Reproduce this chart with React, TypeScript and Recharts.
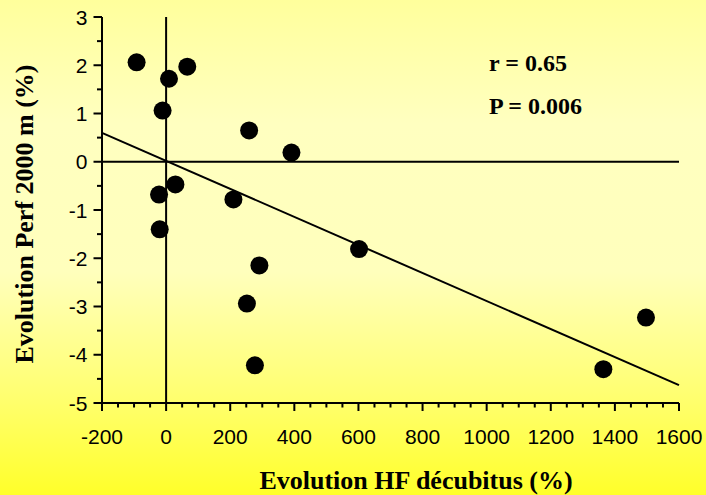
import { ReferenceLine, Scatter, ScatterChart, XAxis, YAxis } from 'recharts';

// Evolution HF décubitus (%) vs Evolution Perf 2000 m (%)
const hfChange = [-92, 9, 66, -11, 259, 391, -22, 29, -20, 210, 602, 291, 252, 277, 1364, 1497];
const perfChange = [2.06, 1.72, 1.97, 1.06, 0.65, 0.19, -0.68, -0.47, -1.4, -0.78, -1.81, -2.15, -2.94, -4.22, -4.3, -3.23];

// regression line end points
const fitX = [-200, 1600];
const fitY = [0.6, -4.63];

const xMajorTicks = [-200, 0, 200, 400, 600, 800, 1000, 1200, 1400, 1600];
const xMinorTicks = [
  -150, -100, -50, 50, 100, 150, 250, 300, 350, 450, 500, 550, 650, 700, 750, 850, 900, 950, 1050, 1100, 1150,
  1250, 1300, 1350, 1450, 1500, 1550,
];
const yMajorTicks = [-5, -4, -3, -2, -1, 0, 1, 2, 3];
const yMinorTicks = [-4.5, -3.5, -2.5, -1.5, -0.5, 0.5, 1.5, 2.5];

const points = hfChange.map((x, i) => ({ x, y: perfChange[i] }));
const fitLine = fitX.map((x, i) => ({ x, y: fitY[i] }));

const xTicks = [...xMajorTicks, ...xMinorTicks].sort((a, b) => a - b);
const yTicks = [...yMajorTicks, ...yMinorTicks].sort((a, b) => a - b);

const TICK_FONT = '"Liberation Sans", Arial, sans-serif';
const LABEL_FONT = '"Liberation Serif", "Times New Roman", serif';

function XTick(props: any) {
  const { x, y, payload } = props;
  const major = xMajorTicks.includes(payload.value);
  return (
    <g>
      <line x1={x} x2={x} y1={y} y2={y + (major ? 8 : 4.5)} stroke="#000" strokeWidth={2} />
      {major && (
        <text x={x} y={y + 40.5} textAnchor="middle" fontFamily={TICK_FONT} fontSize={21} fill="#000">
          {payload.value}
        </text>
      )}
    </g>
  );
}

function YTick(props: any) {
  const { x, y, payload } = props;
  const major = yMajorTicks.includes(payload.value);
  return (
    <g>
      <line x1={x} x2={x - (major ? 8.5 : 5)} y1={y} y2={y} stroke="#000" strokeWidth={2} />
      {major && (
        <text x={x - 14.5} y={y} dy="0.36em" textAnchor="end" fontFamily={TICK_FONT} fontSize={21} fill="#000">
          {payload.value}
        </text>
      )}
    </g>
  );
}

export default function App() {
  return (
    <div
      style={{
        position: 'absolute',
        left: 0,
        top: 0,
        width: 706,
        height: 495,
        background:
          'linear-gradient(to bottom, #ffff9c 0%, #ffffc0 25%, #ffffbc 55%, #ffff70 80%, #ffff2a 100%)',
      }}
    >
      <ScatterChart width={706} height={495} margin={{ top: 17, right: 27, left: 0, bottom: 0 }}>
        <XAxis
          type="number"
          dataKey="x"
          domain={[-200, 1600]}
          ticks={xTicks}
          interval={0}
          height={92}
          tickSize={0}
          tickMargin={0}
          tickLine={false}
          axisLine={{ stroke: '#000', strokeWidth: 2 }}
          tick={(p: any) => <XTick {...p} />}
        />
        <YAxis
          type="number"
          dataKey="y"
          domain={[-5, 3]}
          ticks={yTicks}
          interval={0}
          width={102}
          tickSize={0}
          tickMargin={0}
          tickLine={false}
          axisLine={{ stroke: '#000', strokeWidth: 2 }}
          tick={(p: any) => <YTick {...p} />}
        />
        <ReferenceLine x={0} stroke="#000" strokeWidth={2} />
        <ReferenceLine y={0} stroke="#000" strokeWidth={2} />
        <Scatter
          data={fitLine}
          line={{ stroke: '#000', strokeWidth: 2 }}
          shape={() => <g />}
          isAnimationActive={false}
        />
        <Scatter
          data={points}
          fill="#000"
          shape={(p: any) => <circle cx={p.cx} cy={p.cy} r={9} fill="#000" />}
          isAnimationActive={false}
        />
      </ScatterChart>
      <svg
        width={706}
        height={495}
        style={{ position: 'absolute', left: 0, top: 0, pointerEvents: 'none' }}
      >
        <text x={489} y={71} fontFamily={LABEL_FONT} fontWeight="bold" fontSize={24} fill="#000">
          r = 0.65
        </text>
        <text x={489} y={114} fontFamily={LABEL_FONT} fontWeight="bold" fontSize={24} fill="#000">
          P = 0.006
        </text>
        <text x={416} y={489} textAnchor="middle" fontFamily={LABEL_FONT} fontWeight="bold" fontSize={26} fill="#000">
          Evolution HF décubitus (%)
        </text>
        <text
          x={33}
          y={214}
          transform="rotate(-90 33 214)"
          textAnchor="middle"
          fontFamily={LABEL_FONT}
          fontWeight="bold"
          fontSize={26}
          fill="#000"
        >
          Evolution Perf 2000 m (%)
        </text>
      </svg>
    </div>
  );
}
